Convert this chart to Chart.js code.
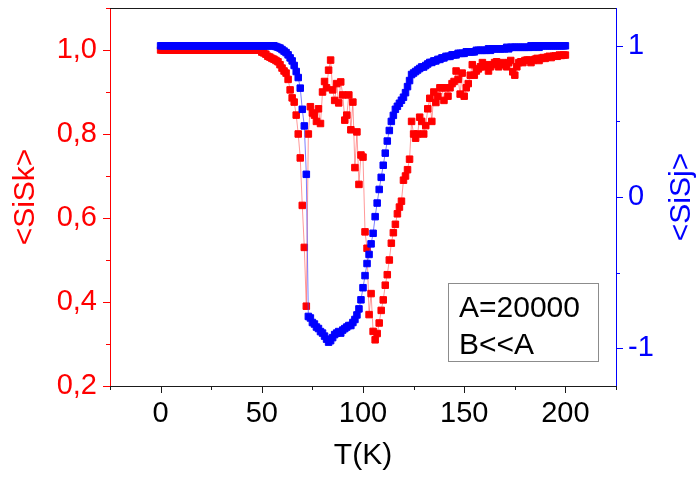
<!DOCTYPE html>
<html><head><meta charset="utf-8">
<script src="https://cdn.jsdelivr.net/npm/chart.js@4"></script>
<style>html,body{margin:0;padding:0;background:#fff;}#wrap{width:697px;height:477px;}</style>
</head><body><div id="wrap"><canvas id="c" width="697" height="477"></canvas></div>
<script>
// Temperature grid (K)
const tK = [
  0,1,2,3,4,5,6,7,8,9,
  10,11,12,13,14,15,16,17,18,19,
  20,21,22,23,24,25,26,27,28,29,
  30,31,32,33,34,35,36,37,38,39,
  40,41,42,43,44,45,46,47,48,49,
  50,51,52,53,54,55,56,57,58,59,
  60,61,62,63,64,65,66,67,68,69,
  70,71,72,73,74,75,76,77,78,79,
  80,81,82,83,84,85,86,87,88,89,
  90,91,92,93,94,95,96,97,98,99,
  100,101,102,103,104,105,106,107,108,109,
  110,111,112,113,114,115,116,117,118,119,
  120,121,122,123,124,125,126,127,128,129,
  130,131,132,133,134,135,136,137,138,139,
  140,141,142,143,144,145,146,147,148,149,
  150,151,152,153,154,155,156,157,158,159,
  160,161,162,163,164,165,166,167,168,169,
  170,171,172,173,174,175,176,177,178,179,
  180,181,182,183,184,185,186,187,188,189,
  190,191,192,193,194,195,196,197,198,199,
  200
];
// <SiSk> (left axis, red)
const siSk = [
  1,1,1,1,1,1,1,1,1,1,
  1,1,1,1,1,1,1,1,1,1,
  1,1,1,1,1,1,1,1,1,1,
  1,1,1,1,1,1,1,1,1,1,
  1,1,1,1,1,1,1,1,1,1,
  0.995,0.993,0.99,0.985,0.983,0.98,0.978,0.975,0.972,0.965,
  0.957,0.95,0.945,0.93,0.905,0.886,0.876,0.845,0.80,0.743,
  0.63,0.53,0.39,0.80,0.865,0.85,0.845,0.83,0.86,0.825,
  0.90,0.925,0.91,0.952,0.976,0.905,0.88,0.92,0.874,0.924,
  0.893,0.833,0.845,0.893,0.81,0.876,0.72,0.805,0.68,0.75,
  0.745,0.567,0.528,0.37,0.42,0.33,0.31,0.325,0.35,0.38,
  0.405,0.44,0.465,0.50,0.54,0.565,0.585,0.61,0.626,0.64,
  0.69,0.70,0.715,0.74,0.83,0.80,0.79,0.80,0.84,0.83,
  0.80,0.82,0.86,0.885,0.83,0.90,0.875,0.89,0.91,0.91,
  0.88,0.91,0.89,0.91,0.92,0.925,0.95,0.93,0.895,0.945,
  0.89,0.91,0.92,0.94,0.965,0.94,0.95,0.955,0.96,0.97,
  0.96,0.965,0.95,0.96,0.965,0.97,0.972,0.96,0.965,0.97,
  0.965,0.96,0.97,0.975,0.948,0.94,0.96,0.97,0.972,0.97,
  0.975,0.976,0.976,0.97,0.975,0.978,0.98,0.975,0.98,0.982,
  0.98,0.983,0.985,0.982,0.985,0.986,0.985,0.988,0.987,0.988,
  0.988
];
// <SiSj> (right axis, blue)
const siSj = [
  1,1,1,1,1,1,1,1,1,1,
  1,1,1,1,1,1,1,1,1,1,
  1,1,1,1,1,1,1,1,1,1,
  1,1,1,1,1,1,1,1,1,1,
  1,1,1,1,1,1,1,1,1,1,
  1,1,1,1,1,1,1,0.995,0.99,0.985,
  0.975,0.965,0.955,0.94,0.92,0.90,0.87,0.83,0.79,0.72,
  0.58,0.47,0.15,-0.79,-0.80,-0.83,-0.84,-0.86,-0.87,-0.89,
  -0.90,-0.92,-0.94,-0.96,-0.95,-0.93,-0.91,-0.90,-0.89,-0.90,
  -0.88,-0.87,-0.86,-0.85,-0.85,-0.83,-0.81,-0.78,-0.74,-0.68,
  -0.60,-0.52,-0.44,-0.38,-0.31,-0.24,-0.13,-0.04,0.05,0.13,
  0.21,0.29,0.37,0.44,0.50,0.54,0.58,0.60,0.62,0.64,
  0.66,0.69,0.73,0.77,0.81,0.82,0.83,0.84,0.85,0.86,
  0.86,0.87,0.88,0.89,0.89,0.90,0.90,0.91,0.91,0.92,
  0.92,0.93,0.93,0.93,0.94,0.94,0.94,0.95,0.95,0.95,
  0.95,0.96,0.96,0.96,0.96,0.96,0.97,0.97,0.97,0.97,
  0.97,0.97,0.98,0.97,0.98,0.98,0.98,0.98,0.98,0.98,
  0.98,0.99,0.98,0.99,0.99,0.99,0.99,0.99,0.99,0.99,
  0.99,0.99,0.99,1.0,0.99,1.0,1.0,0.99,1.0,1.0,
  1,1,1,1,1,1,1,1,1,1,
  1.0
];
const xTicks = [0,50,100,150,200];
const xMinor = [-25,25,75,125,175,225];
const leftTicks = [0.2,0.4,0.6,0.8,1.0];
const leftTickLabels = ['0,2','0,4','0,6','0,8','1,0'];
const leftMinor = [0.3,0.5,0.7,0.9,1.1];
const rightTicks = [-1,0,1];
const rightTickLabels = ['-1','0','1'];
const rightMinor = [-0.5,0.5];
const rightTitle = '<SiSj>';
const boxLines = ['A=20000','B<<A'];

const FONT = "'Liberation Sans', Arial, Helvetica, sans-serif";
const RED = '#ff0000', BLUE = '#0000ff', BLACK = '#1a1a1a';

const tickPlugin = {
  id: 'tickMarks',
  afterDraw(chart) {
    const {ctx, chartArea: a, scales} = chart;
    const r = v => Math.round(v) + 0.5;
    ctx.save();
    ctx.lineWidth = 1;
    ctx.strokeStyle = BLACK;
    ctx.beginPath(); ctx.moveTo(a.left, r(a.top)); ctx.lineTo(a.right, r(a.top)); ctx.stroke();
    const drawX = (vals, len) => vals.forEach(v => {
      const p = r(scales.x.getPixelForValue(v));
      ctx.beginPath(); ctx.moveTo(p, a.bottom); ctx.lineTo(p, a.bottom + len); ctx.stroke();
    });
    drawX(xTicks, 7); drawX(xMinor, 4);
    ctx.strokeStyle = RED;
    const drawL = (vals, len) => vals.forEach(v => {
      const p = r(scales.y.getPixelForValue(v));
      ctx.beginPath(); ctx.moveTo(a.left, p); ctx.lineTo(a.left - len, p); ctx.stroke();
    });
    drawL(leftTicks, 7); drawL(leftMinor, 4);
    ctx.strokeStyle = BLUE;
    const drawR = (vals, len) => vals.forEach(v => {
      const p = r(scales.y2.getPixelForValue(v));
      ctx.beginPath(); ctx.moveTo(a.right, p); ctx.lineTo(a.right + len, p); ctx.stroke();
    });
    drawR(rightTicks, 7); drawR(rightMinor, 4);
    // right axis title, reading bottom-to-top
    const y2 = scales.y2;
    ctx.translate(682, (y2.top + y2.bottom) / 2);
    ctx.rotate(-Math.PI / 2);
    ctx.fillStyle = BLUE;
    ctx.font = '30px ' + FONT;
    ctx.textAlign = 'center';
    ctx.textBaseline = 'middle';
    ctx.fillText(rightTitle, 0, 0);
    ctx.restore();
  }
};

const boxPlugin = {
  id: 'textBox',
  afterDraw(chart) {
    const {ctx} = chart;
    ctx.save();
    ctx.fillStyle = '#fff';
    ctx.fillRect(448, 283, 150, 78);
    ctx.strokeStyle = '#8c8c8c';
    ctx.lineWidth = 1;
    ctx.strokeRect(448.5, 283.5, 150, 78);
    ctx.fillStyle = '#000';
    ctx.font = '30px ' + FONT;
    ctx.textBaseline = 'alphabetic';
    ctx.textAlign = 'left';
    ctx.fillText(boxLines[0], 459, 317);
    ctx.fillText(boxLines[1], 459, 354);
    ctx.restore();
  }
};

new Chart(document.getElementById('c'), {
  type: 'line',
  data: {
    datasets: [
      {
        label: '<SiSj>',
        data: tK.map((t, i) => ({x: t, y: siSj[i]})),
        yAxisID: 'y2',
        borderColor: 'rgba(70,70,255,0.7)',
        borderWidth: 1,
        pointStyle: 'rect',
        pointRadius: 4.6,
        pointBackgroundColor: BLUE,
        pointBorderColor: BLUE,
        pointBorderWidth: 1,
        order: 0
      },
      {
        label: '<SiSk>',
        data: tK.map((t, i) => ({x: t, y: siSk[i]})),
        yAxisID: 'y',
        borderColor: 'rgba(255,70,70,0.55)',
        borderWidth: 1,
        pointStyle: 'rect',
        pointRadius: 4.6,
        pointBackgroundColor: RED,
        pointBorderColor: RED,
        pointBorderWidth: 1,
        order: 1
      }
    ]
  },
  options: {
    responsive: false,
    animation: false,
    devicePixelRatio: 1,
    layout: {padding: {top: 8, left: 0, right: 0, bottom: 0}},
    plugins: {legend: {display: false}, tooltip: {enabled: false}},
    scales: {
      x: {
        type: 'linear', position: 'bottom', min: -25, max: 225,
        grid: {display: false, drawTicks: false},
        border: {display: true, color: BLACK, width: 1},
        ticks: {padding: 11, color: '#000', font: {family: FONT, size: 29}, maxRotation: 0, autoSkip: false,
                callback: (v) => String(v)},
        afterBuildTicks: s => { s.ticks = xTicks.map(v => ({value: v})); },
        afterFit: s => { s.height = 91; s.paddingLeft = 0; s.paddingRight = 0; },
        title: {display: true, text: 'T(K)', color: '#000', font: {family: FONT, size: 30}, padding: {top: 0, bottom: 3}}
      },
      y: {
        type: 'linear', position: 'left', min: 0.2, max: 1.1,
        grid: {display: false, drawTicks: false},
        border: {display: true, color: RED, width: 1},
        ticks: {padding: 13, color: RED, font: {family: FONT, size: 29}, autoSkip: false,
                callback: (v, i) => leftTickLabels[i]},
        afterBuildTicks: s => { s.ticks = leftTicks.map(v => ({value: v})); },
        afterFit: s => { s.width = 110; s.paddingTop = 0; s.paddingBottom = 0; },
        title: {display: true, text: '<SiSk>', color: RED, font: {family: FONT, size: 30}, padding: {top: 8, bottom: 0}}
      },
      y2: {
        type: 'linear', position: 'right', min: -1.25, max: 1.25,
        grid: {display: false, drawTicks: false},
        border: {display: true, color: BLUE, width: 1},
        ticks: {padding: 12, color: BLUE, font: {family: FONT, size: 29}, autoSkip: false,
                callback: (v, i) => rightTickLabels[i]},
        afterBuildTicks: s => { s.ticks = rightTicks.map(v => ({value: v})); },
        afterFit: s => { s.width = 81; s.paddingTop = 0; s.paddingBottom = 0; }
      }
    }
  },
  plugins: [tickPlugin, boxPlugin]
});
</script>
</body></html>
